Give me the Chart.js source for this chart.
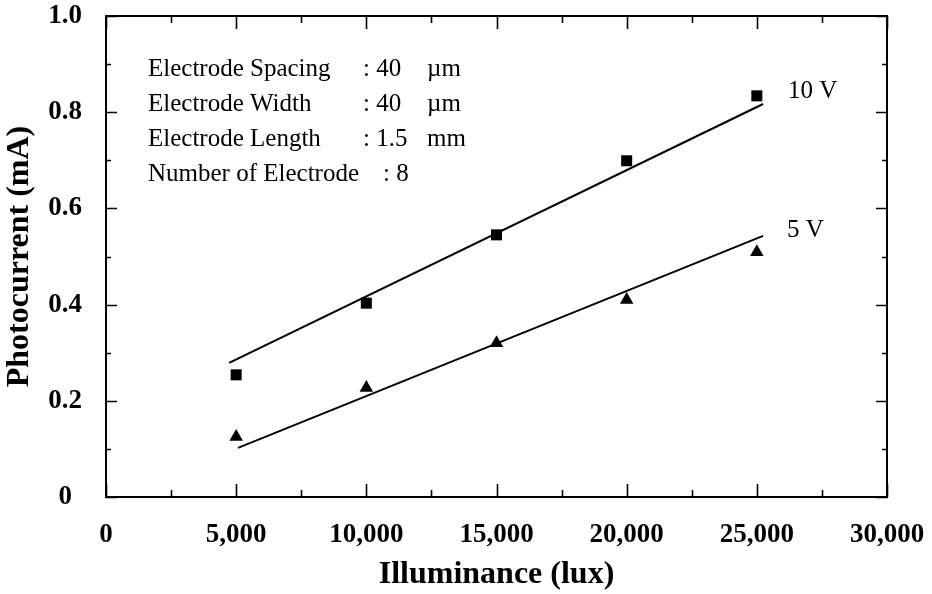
<!DOCTYPE html>
<html>
<head>
<meta charset="utf-8">
<title>Photocurrent vs Illuminance</title>
<script src="https://cdn.jsdelivr.net/npm/chart.js@4.4.1/dist/chart.umd.min.js"></script>
<style>
  html, body { margin: 0; padding: 0; background: #ffffff; }
  #wrap { width: 932px; height: 594px; position: relative; }
</style>
</head>
<body>
<div id="wrap"><canvas id="chart"></canvas></div>
<script>
// Measured photocurrent (mA) at each illuminance (lux)
const illuminance = [5000, 10000, 15000, 20000, 25000];
const current10V = [0.254, 0.403, 0.545, 0.699, 0.834];
const current5V  = [0.125, 0.227, 0.320, 0.410, 0.509];

// Straight-line fits, given by their two end points
const fit10VX = [4730, 25240];
const fit10VY = [0.279, 0.817];
const fit5VX  = [5070, 25240];
const fit5VY  = [0.102, 0.543];

// Axis ticks
const xTickValues = [0, 5000, 10000, 15000, 20000, 25000, 30000];
const yTickValues = [0, 0.2, 0.4, 0.6, 0.8, 1.0];
const yTickLabels = ['0', '0.2', '0.4', '0.6', '0.8', '1.0'];

// Series captions and where they sit (data coordinates)
const seriesNames = ['10 V', '5 V'];
const seriesNameX = [26200, 26160];
const seriesNameY = [0.844, 0.555];

// Device parameters box
const specNames  = ['Electrode Spacing', 'Electrode Width', 'Electrode Length', 'Number of Electrode'];
const specValues = [': 40', ': 40', ': 1.5', ': 8'];
const specUnits  = ['\u00b5m', '\u00b5m', 'mm', ''];

const SERIF = "'Liberation Serif', 'Times New Roman', Times, serif";

const toPoints = (xs, ys) => xs.map((x, i) => ({ x: x, y: ys[i] }));

// Inward tick marks on all four sides, plus the frame
const frameTicks = {
  id: 'frameTicks',
  afterDatasetsDraw(chart) {
    const { ctx, chartArea: a, scales: { x, y } } = chart;
    ctx.save();
    ctx.strokeStyle = '#000';
    ctx.lineWidth = 2;
    ctx.strokeRect(a.left, a.top, a.right - a.left, a.bottom - a.top);
    ctx.lineWidth = 1.6;
    ctx.beginPath();
    for (let v = x.min; v <= x.max + 1e-6; v += 2500) {
      const px = Math.round(x.getPixelForValue(v)) + 0.5;
      const major = Math.abs(v % 5000) < 1e-6;
      const len = major ? 13 : 7;
      ctx.moveTo(px, a.bottom); ctx.lineTo(px, a.bottom - len);
      ctx.moveTo(px, a.top);    ctx.lineTo(px, a.top + len);
    }
    for (let i = 0; i <= 10; i++) {
      const v = i / 10;
      const py = Math.round(y.getPixelForValue(v)) + 0.5;
      const major = i % 2 === 0;
      const len = major ? 11 : 5;
      ctx.moveTo(a.left, py);  ctx.lineTo(a.left + len, py);
      ctx.moveTo(a.right, py); ctx.lineTo(a.right - len, py);
    }
    ctx.stroke();
    ctx.restore();
  }
};

// Series captions and the parameter listing
const annotations = {
  id: 'annotations',
  afterDraw(chart) {
    const { ctx, scales: { x, y } } = chart;
    ctx.save();
    ctx.fillStyle = '#000';
    ctx.textBaseline = 'middle';
    ctx.textAlign = 'left';
    ctx.font = '25px ' + SERIF;
    seriesNames.forEach((name, i) => {
      ctx.fillText(name, x.getPixelForValue(seriesNameX[i]), y.getPixelForValue(seriesNameY[i]));
    });

    ctx.textBaseline = 'alphabetic';
    const left = 148, firstBase = 76, step = 35;
    const colonX = [363, 363, 363, 383];
    const unitX = 427;
    specNames.forEach((name, i) => {
      const base = firstBase + i * step;
      ctx.fillText(name, left, base);
      ctx.fillText(specValues[i], colonX[i], base);
      if (specUnits[i]) ctx.fillText(specUnits[i], unitX, base);
    });
    ctx.restore();
  }
};

new Chart(document.getElementById('chart'), {
  type: 'scatter',
  data: {
    datasets: [
      {
        label: seriesNames[0],
        data: toPoints(illuminance, current10V),
        pointStyle: 'rect',
        pointRadius: 7.8,
        pointBackgroundColor: '#000',
        pointBorderColor: '#000',
        pointBorderWidth: 0,
        showLine: false
      },
      {
        label: seriesNames[1],
        data: toPoints(illuminance, current5V),
        pointStyle: 'triangle',
        pointRadius: 7.8,
        pointBackgroundColor: '#000',
        pointBorderColor: '#000',
        pointBorderWidth: 0,
        showLine: false
      },
      {
        label: seriesNames[0] + ' fit',
        data: toPoints(fit10VX, fit10VY),
        showLine: true,
        borderColor: '#000',
        borderWidth: 2,
        pointRadius: 0
      },
      {
        label: seriesNames[1] + ' fit',
        data: toPoints(fit5VX, fit5VY),
        showLine: true,
        borderColor: '#000',
        borderWidth: 2,
        pointRadius: 0
      }
    ]
  },
  options: {
    responsive: true,
    maintainAspectRatio: false,
    animation: false,
    events: [],
    layout: { padding: { top: 16, right: 45, left: 0, bottom: 0 } },
    plugins: {
      legend: { display: false },
      tooltip: { enabled: false }
    },
    scales: {
      x: {
        type: 'linear',
        min: 0,
        max: 30000,
        afterFit(scale) {
          scale.height = 97;
          scale.paddingLeft = 0;
          scale.paddingRight = 0;
        },
        afterBuildTicks(scale) { scale.ticks = xTickValues.map(v => ({ value: v })); },
        grid: { display: false, drawTicks: false },
        border: { display: false },
        ticks: {
          padding: 22,
          color: '#000',
          font: { family: SERIF, size: 27, weight: 'bold' },
          maxRotation: 0,
          autoSkip: false,
          callback: v => Number(v).toLocaleString('en-US')
        },
        title: {
          display: true,
          text: 'Illuminance (lux)',
          color: '#000',
          font: { family: SERIF, size: 32, weight: 'bold', lineHeight: 1.2 },
          padding: { top: 0, bottom: 0 }
        }
      },
      y: {
        type: 'linear',
        min: 0,
        max: 1,
        afterFit(scale) {
          scale.width = 106;
          scale.paddingTop = 0;
          scale.paddingBottom = 0;
        },
        afterBuildTicks(scale) { scale.ticks = yTickValues.map(v => ({ value: v })); },
        grid: { display: false, drawTicks: false },
        border: { display: false },
        ticks: {
          padding: 24,
          crossAlign: 'center',
          color: '#000',
          font: { family: SERIF, size: 27, weight: 'bold' },
          autoSkip: false,
          callback: (v) => yTickLabels[yTickValues.findIndex(t => Math.abs(t - v) < 1e-9)]
        },
        title: {
          display: true,
          text: 'Photocurrent (mA)',
          color: '#000',
          font: { family: SERIF, size: 32, weight: 'bold', lineHeight: 1.2 },
          padding: { top: 1, bottom: 0 }
        }
      }
    }
  },
  plugins: [frameTicks, annotations]
});
</script>
</body>
</html>
